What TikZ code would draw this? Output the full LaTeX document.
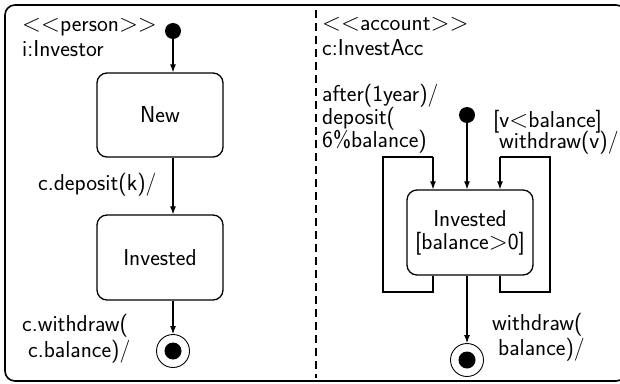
\documentclass[tikz,border=0pt]{standalone}
\usepackage{fontspec}
\usetikzlibrary{arrows.meta}
\begin{document}
\begin{tikzpicture}[x=1pt,y=-1pt,
  every node/.style={font=\sffamily\fontsize{23}{25}\selectfont},
  statebox/.style={draw,line width=1.3pt,rounded corners=10pt,minimum width=126pt,inner sep=0pt,align=center},
  initdot/.style={circle,fill,inner sep=0pt,minimum size=16pt},
  finaldot/.style={circle,draw,line width=0.9pt,inner sep=0pt,minimum size=33pt,
    path picture={\fill (path picture bounding box.center) circle (8.5pt);}},
  arr/.style={line width=1.1pt,-{Latex[length=8pt,width=6pt]}},
  loopline/.style={line width=2pt},
  lbl/.style={anchor=base west,inner sep=0pt}]
\useasboundingbox (0,0) rectangle (620,383);
\begin{scope}
\clip (0,0) rectangle (620,383);
\draw[line width=1.6pt,rounded corners=10pt] (5,5) rectangle (626,381);
\end{scope}
\draw[line width=1.1pt,dash pattern=on 8pt off 5pt] (316,10) -- (316,378);
% left region
\node[lbl] (st1) at (22,31) {$<$$<$person$>$$>$};
\node[lbl] (nm1) at (22,56) {i:Investor};
\node[initdot] (init1) at (173,31) {};
\node[statebox,minimum height=84pt] (new) at (160,115) {New};
\node[statebox,minimum height=85pt] (inv1) at (160,257.5) {Invested};
\node[finaldot] (fin1) at (173,351) {};
\draw[arr] (init1) -- (init1 |- new.north);
\draw[arr] (new.south -| init1) -- (inv1.north -| init1);
\draw[arr] (inv1.south -| init1) -- (fin1);
\node[lbl] (dep) at (38,190) {c.deposit(k)/};
\node[lbl] (wd1) at (22,331) {c.withdraw(};
\node[lbl] (wd2) at (28,357) {c.balance)/};
% right region
\node[lbl] (st2) at (322,30) {$<$$<$account$>$$>$};
\node[lbl] (nm2) at (322,55) {c:InvestAcc};
\node[lbl] (af1) at (322,101) {after(1year)/};
\node[lbl] (af2) at (322,124) {deposit(};
\node[lbl] (af3) at (322,147) {6\%balance)};
\node[lbl] (gd1) at (493,127) {[v$<$balance]};
\node[lbl] (gd2) at (499,148) {withdraw(v)/};
\node[initdot] (init2) at (467,115) {};
\node[statebox,minimum height=85pt] (inv2) at (470,232.5) {Invested\\[-2pt][balance$>$0]};
\node[finaldot] (fin2) at (467,360) {};
\draw[arr] (init2) -- (init2 |- inv2.north);
\draw[arr] (inv2.south -| init2) -- (fin2);
\coordinate (lx) at (433,0);
\coordinate (lob) at (383,292);
\coordinate (lot) at (383,157);
\coordinate (rx) at (500,0);
\coordinate (rob) at (550,292);
\coordinate (rot) at (550,157);
\draw[loopline] (inv2.south -| lx) -- (lx |- lob) -- (lob) -- (lot) -- (lx |- lot);
\draw[arr] (lx |- lot) -- (inv2.north -| lx);
\draw[loopline] (inv2.south -| rx) -- (rx |- rob) -- (rob) -- (rot) -- (rx |- rot);
\draw[arr] (rx |- rot) -- (inv2.north -| rx);
\node[lbl] (wd3) at (492,330) {withdraw(};
\node[lbl] (wd4) at (498,355) {balance)/};
\end{tikzpicture}
\end{document}
